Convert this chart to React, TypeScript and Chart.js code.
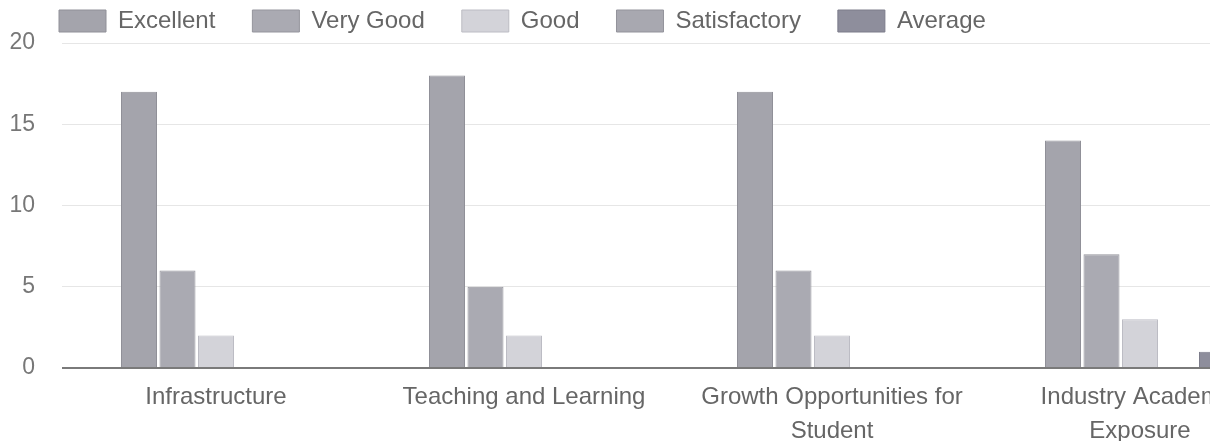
import React, { useEffect, useRef } from "react";
import { Chart, registerables } from "chart.js";

Chart.register(...registerables);

const categories: (string | string[])[] = [
  "Infrastructure",
  "Teaching and Learning",
  ["Growth Opportunities for", "Student"],
  ["Industry Academia", "Exposure"],
];

const excellent = [17, 18, 17, 14];
const veryGood = [6, 5, 6, 7];
const good = [2, 2, 2, 3];
const satisfactory = [0, 0, 0, 0];
const average = [0, 0, 0, 1];

const yTicks = [0, 5, 10, 15, 20];

const legendShift = {
  id: "legendShift",
  afterLayout(chart: any) {
    if (chart.legend) {
      chart.legend.left += 14;
      chart.legend.right += 14;
    }
  },
};

export default function App() {
  const ref = useRef<HTMLCanvasElement | null>(null);

  useEffect(() => {
    if (!ref.current) return;
    const chart = new Chart(ref.current, {
      type: "bar",
      data: {
        labels: categories,
        datasets: [
          { label: "Excellent", data: excellent, backgroundColor: "#a4a4ac", borderColor: "#909098", borderWidth: 1 },
          { label: "Very Good", data: veryGood, backgroundColor: "#aaaab2", borderColor: "#95959d", borderWidth: 1 },
          { label: "Good", data: good, backgroundColor: "#d3d3d9", borderColor: "#bcbcc4", borderWidth: 1 },
          { label: "Satisfactory", data: satisfactory, backgroundColor: "#a8a8b0", borderColor: "#93939b", borderWidth: 1 },
          { label: "Average", data: average, backgroundColor: "#8e8e9c", borderColor: "#7c7c8a", borderWidth: 1 },
        ],
      },
      plugins: [legendShift],
      options: {
        responsive: false,
        animation: false,
        datasets: {
          bar: { categoryPercentage: 0.625, barPercentage: 0.935 },
        },
        layout: { padding: { left: 0, right: 14, top: -36, bottom: -20.2 } },
        plugins: {
          legend: {
            position: "top",
            align: "start",
            labels: {
              boxWidth: 47,
              boxHeight: 22,
              padding: 37,
              color: "#666",
              font: { family: "'Liberation Sans', Arial, sans-serif", size: 24 },
            },
          },
          tooltip: { enabled: false },
        },
        scales: {
          x: {
            grid: { display: false, drawTicks: false },
            border: { display: false },
            ticks: {
              color: "#666",
              padding: 13,
              maxRotation: 0,
              autoSkip: false,
              font: { family: "'Liberation Sans', Arial, sans-serif", size: 24, lineHeight: 1.4 },
            },
          },
          y: {
            min: yTicks[0],
            max: yTicks[yTicks.length - 1],
            afterFit: (scale: any) => {
              scale.width = 54;
              scale.paddingTop = 0;
              scale.paddingBottom = 0;
            },
            afterBuildTicks: (scale: any) => {
              scale.ticks = yTicks.map((v) => ({ value: v }));
            },
            border: { display: false },
            grid: {
              drawTicks: false,
              color: (ctx: any) => (ctx.tick && ctx.tick.value === 0 ? "#7a7a7a" : "#e6e6e6"),
              lineWidth: (ctx: any) => (ctx.tick && ctx.tick.value === 0 ? 2 : 1),
            },
            ticks: {
              color: "#777",
              padding: 27,
              font: { family: "'Liberation Sans', Arial, sans-serif", size: 23 },
            },
          },
        },
      },
    });
    return () => chart.destroy();
  }, []);

  return (
    <div
      style={{
        position: "fixed",
        left: 8,
        top: 8,
        width: 1202,
        height: 433,
        overflow: "hidden",
        background: "#fff",
      }}
    >
      <canvas ref={ref} width={1300} height={433} style={{ width: 1300, height: 433, display: "block" }} />
    </div>
  );
}
